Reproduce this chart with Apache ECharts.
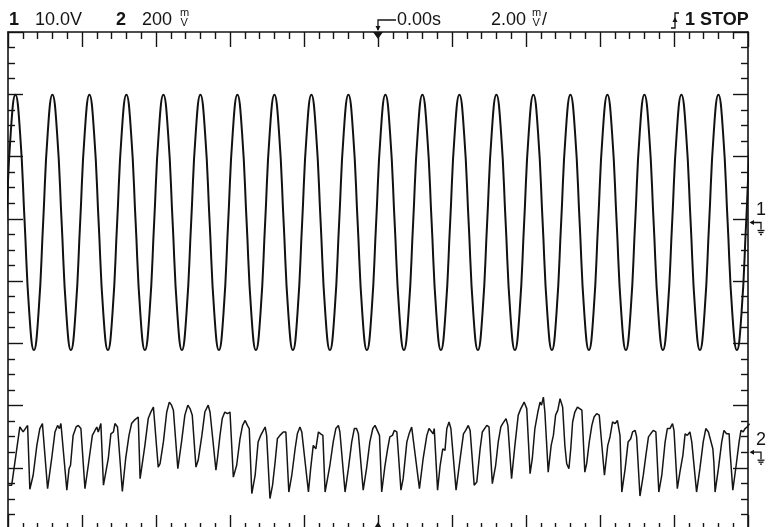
<!DOCTYPE html>
<html>
<head>
<meta charset="utf-8">
<script src="https://cdn.jsdelivr.net/npm/echarts@6/dist/echarts.min.js"></script>
<style>
html,body{margin:0;padding:0;background:#fff}
#scope{width:771px;height:527px}
</style>
</head>
<body>
<div id="scope"></div>
<script>
// channel 1: [time ms, volts] (peaks, 45deg points, crossings)
var ch1Wave = [
  [-10.175,-14.5],[-10.05,0],[-9.925,14.5],
  [-9.8,20.5],[-9.675,14.5],[-9.55,0],[-9.425,-14.5],[-9.3,-20.5],[-9.175,-14.5],[-9.05,0],[-8.925,14.5],
  [-8.8,20.5],[-8.675,14.5],[-8.55,0],[-8.425,-14.5],[-8.3,-20.5],[-8.175,-14.5],[-8.05,0],[-7.925,14.5],
  [-7.8,20.5],[-7.675,14.5],[-7.55,0],[-7.425,-14.5],[-7.3,-20.5],[-7.175,-14.5],[-7.05,0],[-6.925,14.5],
  [-6.8,20.5],[-6.675,14.5],[-6.55,0],[-6.425,-14.5],[-6.3,-20.5],[-6.175,-14.5],[-6.05,0],[-5.925,14.5],
  [-5.8,20.5],[-5.675,14.5],[-5.55,0],[-5.425,-14.5],[-5.3,-20.5],[-5.175,-14.5],[-5.05,0],[-4.925,14.5],
  [-4.8,20.5],[-4.675,14.5],[-4.55,0],[-4.425,-14.5],[-4.3,-20.5],[-4.175,-14.5],[-4.05,0],[-3.925,14.5],
  [-3.8,20.5],[-3.675,14.5],[-3.55,0],[-3.425,-14.5],[-3.3,-20.5],[-3.175,-14.5],[-3.05,0],[-2.925,14.5],
  [-2.8,20.5],[-2.675,14.5],[-2.55,0],[-2.425,-14.5],[-2.3,-20.5],[-2.175,-14.5],[-2.05,0],[-1.925,14.5],
  [-1.8,20.5],[-1.675,14.5],[-1.55,0],[-1.425,-14.5],[-1.3,-20.5],[-1.175,-14.5],[-1.05,0],[-0.925,14.5],
  [-0.8,20.5],[-0.675,14.5],[-0.55,0],[-0.425,-14.5],[-0.3,-20.5],[-0.175,-14.5],[-0.05,0],[0.075,14.5],
  [0.2,20.5],[0.325,14.5],[0.45,0],[0.575,-14.5],[0.7,-20.5],[0.825,-14.5],[0.95,0],[1.075,14.5],
  [1.2,20.5],[1.325,14.5],[1.45,0],[1.575,-14.5],[1.7,-20.5],[1.825,-14.5],[1.95,0],[2.075,14.5],
  [2.2,20.5],[2.325,14.5],[2.45,0],[2.575,-14.5],[2.7,-20.5],[2.825,-14.5],[2.95,0],[3.075,14.5],
  [3.2,20.5],[3.325,14.5],[3.45,0],[3.575,-14.5],[3.7,-20.5],[3.825,-14.5],[3.95,0],[4.075,14.5],
  [4.2,20.5],[4.325,14.5],[4.45,0],[4.575,-14.5],[4.7,-20.5],[4.825,-14.5],[4.95,0],[5.075,14.5],
  [5.2,20.5],[5.325,14.5],[5.45,0],[5.575,-14.5],[5.7,-20.5],[5.825,-14.5],[5.95,0],[6.075,14.5],
  [6.2,20.5],[6.325,14.5],[6.45,0],[6.575,-14.5],[6.7,-20.5],[6.825,-14.5],[6.95,0],[7.075,14.5],
  [7.2,20.5],[7.325,14.5],[7.45,0],[7.575,-14.5],[7.7,-20.5],[7.825,-14.5],[7.95,0],[8.075,14.5],
  [8.2,20.5],[8.325,14.5],[8.45,0],[8.575,-14.5],[8.7,-20.5],[8.825,-14.5],[8.95,0],[9.075,14.5],
  [9.2,20.5],[9.325,14.5],[9.45,0],[9.575,-14.5],[9.7,-20.5],[9.825,-14.5],[9.95,0],[10.075,14.5],
  [10.2,20.5]
];

// channel 2: [time ms, millivolts]
var ch2Wave = [
  [-9.99,-106],[-9.90,-106],[-9.68,81],[-9.59,65],[-9.54,74],[-9.47,86],
  [-9.41,-119],[-9.32,-74],[-9.22,22],[-9.14,76],[-9.07,92],[-9.04,86],
  [-8.93,-117],[-8.82,-21],[-8.73,65],[-8.66,86],[-8.61,76],[-8.57,92],
  [-8.41,-122],[-8.35,-53],[-8.31,-42],[-8.24,54],[-8.16,81],[-8.10,86],[-8.03,76],[-7.99,81],
  [-7.92,-117],[-7.83,-42],[-7.72,54],[-7.67,65],[-7.60,81],[-7.56,65],[-7.49,92],
  [-7.42,-106],[-7.29,-21],[-7.22,59],[-7.15,65],[-7.11,92],[-7.04,81],[-6.99,86],
  [-6.91,-126],[-6.82,-21],[-6.73,54],[-6.66,92],[-6.59,102],[-6.54,97],[-6.48,113],
  [-6.43,-85],[-6.39,-53],[-6.30,22],[-6.21,108],[-6.14,129],[-6.07,145],[-6.03,140],
  [-5.94,-48],[-5.89,-37],[-5.80,33],[-5.71,129],[-5.64,161],[-5.58,151],[-5.53,135],
  [-5.41,-53],[-5.31,33],[-5.22,119],[-5.14,151],[-5.08,140],[-5.02,119],
  [-4.92,-48],[-4.86,-26],[-4.76,54],[-4.68,129],[-4.59,151],[-4.54,129],[-4.49,135],
  [-4.38,-58],[-4.34,-21],[-4.27,54],[-4.21,108],[-4.14,129],[-4.07,124],[-4.00,129],
  [-3.91,-80],[-3.82,-42],[-3.73,43],[-3.66,86],[-3.59,102],[-3.53,86],[-3.48,76],
  [-3.41,-133],[-3.32,-74],[-3.24,33],[-3.17,54],[-3.12,65],[-3.05,81],[-3.01,54],
  [-2.92,-149],[-2.85,-106],[-2.78,-31],[-2.72,43],[-2.65,54],[-2.56,65],[-2.49,65],
  [-2.41,-128],[-2.33,-74],[-2.24,11],[-2.18,59],[-2.11,81],[-2.06,65],
  [-1.88,-128],[-1.82,-53],[-1.75,22],[-1.68,11],[-1.61,65],[-1.55,59],[-1.49,54],
  [-1.43,-128],[-1.30,-42],[-1.21,33],[-1.14,76],[-1.07,86],[-1.03,65],
  [-0.89,-128],[-0.80,-53],[-0.71,33],[-0.64,76],[-0.58,76],[-0.53,59],
  [-0.40,-122],[-0.31,-53],[-0.22,33],[-0.14,76],[-0.08,86],[-0.02,70],[0.04,54],
  [0.10,-128],[0.19,-42],[0.26,11],[0.32,49],[0.39,54],[0.44,70],[0.51,65],
  [0.62,-122],[0.68,-85],[0.78,33],[0.84,59],[0.91,81],[0.95,76],
  [1.12,-117],[1.22,-21],[1.32,54],[1.38,76],[1.43,81],[1.49,59],[1.52,76],
  [1.61,-122],[1.68,-42],[1.75,11],[1.81,6],[1.86,76],[1.92,97],[1.97,76],[2.01,81],
  [2.11,-122],[2.22,-21],[2.31,59],[2.37,70],[2.44,86],[2.49,70],
  [2.60,-106],[2.67,-96],[2.76,11],[2.82,65],[2.87,59],[2.94,86],[3.00,81],
  [3.09,-101],[3.18,-42],[3.25,33],[3.32,81],[3.37,92],[3.41,92],[3.46,108],[3.51,86],
  [3.61,-85],[3.70,22],[3.79,119],[3.86,140],[3.91,145],[3.95,161],[4.02,140],
  [4.11,-69],[4.17,-21],[4.24,76],[4.32,129],[4.38,161],[4.42,151],[4.47,177],[4.51,129],
  [4.60,-64],[4.68,22],[4.74,54],[4.80,119],[4.86,135],[4.92,172],[4.99,145],[5.03,140],
  [5.05,22],[5.10,-37],[5.16,-53],[5.21,11],[5.26,97],[5.32,129],[5.39,145],[5.44,140],[5.51,135],
  [5.59,-64],[5.64,-37],[5.71,33],[5.78,86],[5.84,113],[5.91,124],[5.98,119],
  [6.12,-74],[6.21,22],[6.27,49],[6.34,97],[6.41,92],[6.47,102],[6.52,108],[6.54,54],
  [6.59,-128],[6.68,-53],[6.76,33],[6.83,43],[6.88,65],[6.95,70],[6.99,49],
  [7.08,-141],[7.17,-74],[7.24,-10],[7.31,49],[7.37,59],[7.44,70],[7.51,65],
  [7.59,-128],[7.67,-74],[7.76,33],[7.82,76],[7.89,76],[7.96,92],[8.00,70],
  [8.09,-117],[8.16,-64],[8.24,-10],[8.30,59],[8.36,54],[8.43,65],[8.48,33],
  [8.61,-128],[8.70,-53],[8.79,33],[8.86,76],[8.93,65],[8.97,59],[9.05,11],[9.08,-37],
  [9.11,-128],[9.20,-53],[9.29,33],[9.35,70],[9.42,59],[9.49,59],[9.51,11],
  [9.59,-122],[9.68,-42],[9.76,33],[9.81,70],[9.87,65],[9.92,76],[9.98,81],[10.04,92]
];

// scope settings shown in the header
var ch1VoltsPerDiv = 10;      // 10.0V
var ch2MilliPerDiv = 200;     // 200 mV
var msPerDiv = 2;             // 2.00 m/
var ch1GroundDiv = 0.94;      // ground marker, divisions above centre
var ch2GroundDiv = -2.75;

var INK = '#141414';
var FONT = '"Liberation Sans", Arial, Helvetica, sans-serif';

var scopeChart = echarts.init(document.getElementById('scope'), null, {renderer: 'canvas'});

function frameX(pos, showLine) {
    return {
        type: 'value', position: pos,
        min: -5 * msPerDiv, max: 5 * msPerDiv, interval: msPerDiv,
        axisLine: {show: showLine, onZero: false, lineStyle: {color: INK, width: 1.6}},
        axisTick: {show: true, inside: true, length: 15, lineStyle: {color: INK, width: 1.4}},
        minorTick: {show: true, splitNumber: 5, length: 7, lineStyle: {color: INK, width: 1.4}},
        axisLabel: {show: false},
        splitLine: {show: false}
    };
}
function frameY(pos) {
    return {
        type: 'value', position: pos,
        min: -4, max: 4, interval: 1,
        axisLine: {show: true, onZero: false, lineStyle: {color: INK, width: 1.6}},
        axisTick: {show: true, inside: true, length: 15, lineStyle: {color: INK, width: 1.4}},
        minorTick: {show: true, splitNumber: 4, length: 7, lineStyle: {color: INK, width: 1.4}},
        axisLabel: {show: false},
        splitLine: {show: false}
    };
}

var scopeOption = {
    backgroundColor: '#fff',
    animation: false,
    grid: {left: 8, right: 23, top: 32, bottom: -3, outerBoundsMode: 'none', containLabel: false},
    xAxis: [frameX('bottom', false), frameX('top', true)],
    yAxis: [
        frameY('left'),
        frameY('right'),
        {type: 'value', show: false, min: (-4 - ch1GroundDiv) * ch1VoltsPerDiv, max: (4 - ch1GroundDiv) * ch1VoltsPerDiv},
        {type: 'value', show: false, min: (-4 - ch2GroundDiv) * ch2MilliPerDiv, max: (4 - ch2GroundDiv) * ch2MilliPerDiv}
    ],
    series: [
        {
            name: 'CH1', type: 'line', xAxisIndex: 0, yAxisIndex: 2,
            data: ch1Wave, smooth: 0.5, showSymbol: false, silent: true,
            lineStyle: {color: '#111', width: 2}
        },
        {
            name: 'CH2', type: 'line', xAxisIndex: 0, yAxisIndex: 3,
            data: ch2Wave, showSymbol: false, silent: true,
            lineStyle: {color: '#151515', width: 1.5}
        }
    ]
};
scopeChart.setOption(scopeOption);

// header and markers
function txt(s, x, y, size, bold) {
    return {type: 'text', x: x, y: y, silent: true,
        style: {text: s, fill: INK, font: (bold ? 'bold ' : '') + size + 'px ' + FONT, verticalAlign: 'middle'}};
}
function seg(pts, w) {
    return {type: 'polyline', silent: true, shape: {points: pts}, style: {stroke: INK, lineWidth: w || 1.3, fill: null}};
}
function tri(pts) {
    return {type: 'polygon', silent: true, shape: {points: pts}, style: {fill: INK}};
}
function groundMarker(label, xr, y) {
    return [
        txt(label, xr + 8, y - 12, 18, false),
        seg([[xr + 3, y], [xr + 13, y], [xr + 13, y + 7]]),
        tri([[xr + 1.5, y], [xr + 6, y - 2.5], [xr + 6, y + 2.5]]),
        seg([[xr + 9.5, y + 8], [xr + 16.5, y + 8]]),
        seg([[xr + 10.5, y + 10], [xr + 15.5, y + 10]]),
        seg([[xr + 12, y + 12], [xr + 14, y + 12]])
    ];
}
// small "m over V" unit stack
function unitStack(x) {
    return [txt('m', x, 13, 11, false), txt('V', x + 0.5, 22.5, 11, false)];
}

var xMid = scopeChart.convertToPixel({xAxisIndex: 0}, 0);
var xRight = scopeChart.convertToPixel({xAxisIndex: 0}, 5 * msPerDiv);
var yTop = scopeChart.convertToPixel({yAxisIndex: 0}, 4);
var yBot = scopeChart.convertToPixel({yAxisIndex: 0}, -4);
var y1 = scopeChart.convertToPixel({yAxisIndex: 2}, 0);
var y2 = scopeChart.convertToPixel({yAxisIndex: 3}, 0);

var els = [
    txt('1', 9, 20, 18, true),
    txt('10.0V', 35, 20, 18, false),
    txt('2', 116, 20, 18, true),
    txt('200', 142, 20, 18, false),
    txt('0.00s', 397, 20, 18, false),
    txt('2.00', 491, 20, 18, false),
    txt('/', 542, 20, 18, false),
    txt('1 STOP', 685, 20, 18, true),
    // trigger position marker
    seg([[xMid, yTop - 2], [xMid, yTop - 12], [xMid + 18, yTop - 12]]),
    tri([[xMid - 2.5, yTop - 6], [xMid + 2.5, yTop - 6], [xMid, yTop - 1]]),
    tri([[xMid - 5, yTop], [xMid + 5, yTop], [xMid, yTop + 7]]),
    tri([[xMid - 5, yBot], [xMid + 5, yBot], [xMid, yBot - 8]]),
    // trigger slope
    seg([[671, 28], [675, 28], [675, 13], [679, 13]]),
    tri([[672.5, 22], [677.5, 22], [675, 17]])
].concat(unitStack(180), unitStack(532), groundMarker('1', xRight, y1), groundMarker('2', xRight, y2));

scopeChart.setOption({graphic: {elements: els}});
</script>
</body>
</html>
